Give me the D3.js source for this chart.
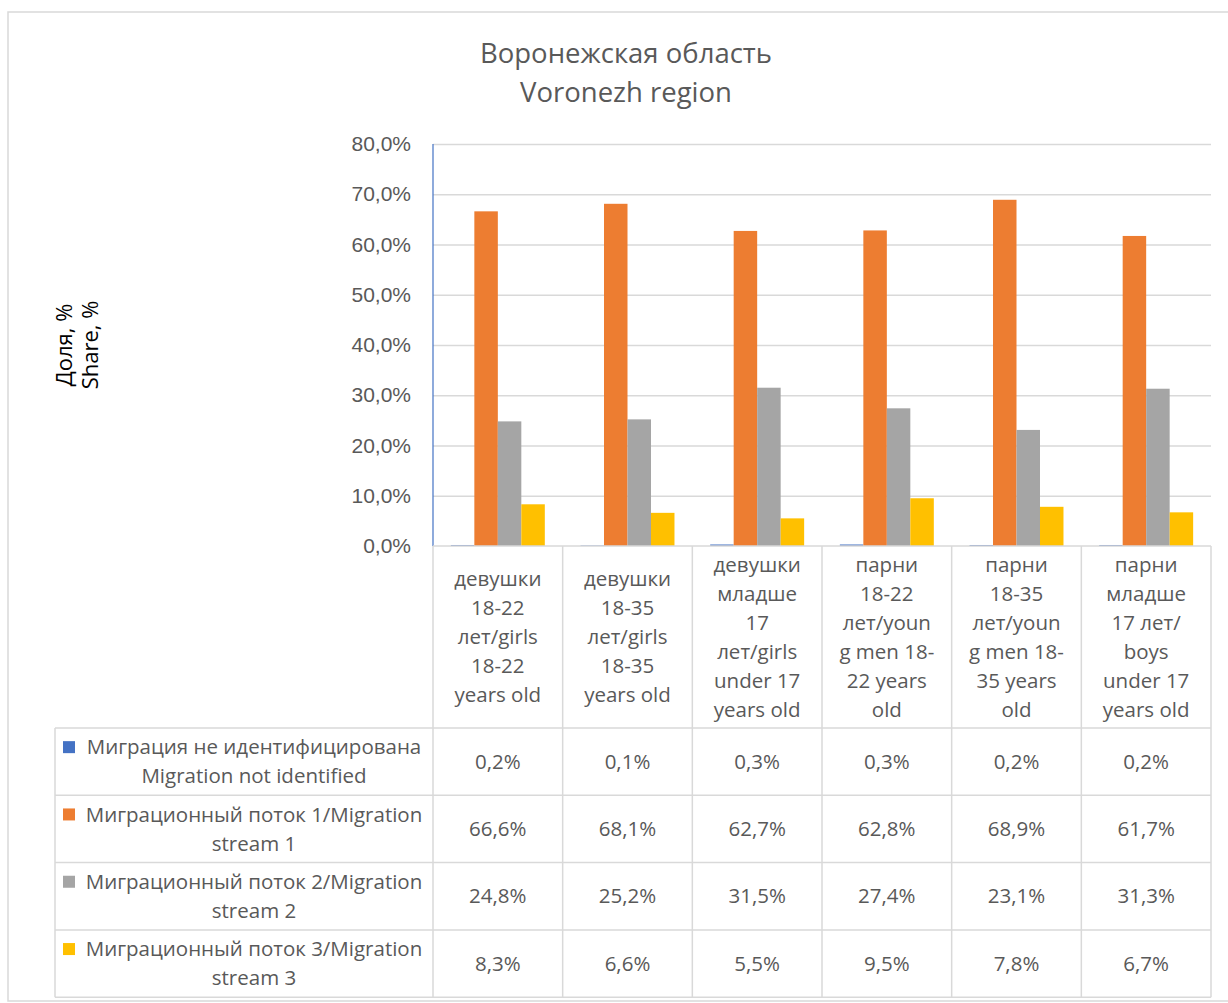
<!DOCTYPE html>
<html lang="ru">
<head>
<meta charset="UTF-8">
<title>Воронежская область</title>
<script src="https://d3js.org/d3.v7.min.js"></script>
<style>
    body { margin: 0; background: #fff; }
    svg { display: block; font-family: "Open Sans", sans-serif; }
    .tick text { fill: #595959; font-size: 21px; }
</style>
</head>
<body>
<svg width="1228" height="1003"></svg>
<script>
    // column headers, already broken into lines as in the source
    const categories = [
        "девушки|18-22|лет/girls|18-22|years old",
        "девушки|18-35|лет/girls|18-35|years old",
        "девушки|младше|17|лет/girls|under 17|years old",
        "парни|18-22|лет/youn|g men 18-|22 years|old",
        "парни|18-35|лет/youn|g men 18-|35 years|old",
        "парни|младше|17 лет/|boys|under 17|years old"
    ];
    const seriesNames = [
        "Миграция не идентифицирована|Migration not identified",
        "Миграционный поток 1/Migration|stream 1",
        "Миграционный поток 2/Migration|stream 2",
        "Миграционный поток 3/Migration|stream 3"
    ];
    const notIdentified = [0.2, 0.1, 0.3, 0.3, 0.2, 0.2];
    const stream1 = [66.6, 68.1, 62.7, 62.8, 68.9, 61.7];
    const stream2 = [24.8, 25.2, 31.5, 27.4, 23.1, 31.3];
    const stream3 = [8.3, 6.6, 5.5, 9.5, 7.8, 6.7];
    const colors = ["#4472c4", "#ed7d31", "#a5a5a5", "#ffc000"];

    const values = [notIdentified, stream1, stream2, stream3];

    const ru = d3.formatLocale({decimal: ",", thousands: " ", grouping: [3], currency: ["", " ₽"]});
    const pct = v => ru.format(".1f")(v) + "%";

    const svg = d3.select("svg");
    const grid = "#d9d9d9";
    const textCol = "#595959";
    const cellFont = "20.5px";

    // outer chart border
    svg.append("rect")
        .attr("x", 8).attr("y", 12)
        .attr("width", 1240).attr("height", 989)
        .attr("fill", "none").attr("stroke", grid).attr("stroke-width", 1.5);

    // title
    svg.append("text")
        .attr("x", 626).attr("y", 63)
        .attr("text-anchor", "middle")
        .attr("fill", textCol).style("font-size", "27.5px")
        .text("Воронежская область");
    svg.append("text")
        .attr("x", 626).attr("y", 102)
        .attr("text-anchor", "middle")
        .attr("fill", textCol).style("font-size", "27.5px")
        .text("Voronezh region");

    const plotLeft = 433, plotRight = 1211, plotTop = 144, plotBottom = 546;

    const x = d3.scaleBand().domain(categories).range([plotLeft, plotRight]);
    const xs = d3.scaleBand().domain(d3.range(values.length))
        .range([0, x.bandwidth()]).paddingInner(0).paddingOuter(0.76);
    const y = d3.scaleLinear().domain([0, 80]).range([plotBottom, plotTop]);

    // gridlines + tick labels
    const yAxis = svg.append("g")
        .attr("transform", "translate(" + plotLeft + ",0)")
        .call(d3.axisLeft(y).ticks(8).tickSize(-(plotRight - plotLeft)).tickPadding(22).tickFormat(pct));
    yAxis.select(".domain").remove();
    yAxis.selectAll(".tick line")
        .attr("stroke", d => d === 0 ? "none" : grid)
        .attr("stroke-width", 1.5);

    // bars
    svg.append("g").selectAll("g")
        .data(values)
        .join("g")
        .attr("fill", (d, i) => colors[i])
        .selectAll("rect")
        .data((d, i) => d.map((v, j) => ({v, j, i})))
        .join("rect")
        .attr("x", d => x(categories[d.j]) + xs(d.i))
        .attr("width", xs.bandwidth())
        .attr("y", d => y(d.v))
        .attr("height", d => y(0) - y(d.v));

    // value axis line
    svg.append("line")
        .attr("x1", plotLeft).attr("x2", plotLeft)
        .attr("y1", plotTop).attr("y2", plotBottom)
        .attr("stroke", "#4472c4").attr("stroke-width", 1.2);

    // y axis title
    const yt = svg.append("text")
        .attr("transform", "translate(77,345) rotate(-90)")
        .attr("text-anchor", "middle")
        .attr("fill", "#000").style("font-size", "22px");
    yt.append("tspan").attr("x", 0).attr("dy", "-0.25em").text("Доля, %");
    yt.append("tspan").attr("x", 0).attr("dy", "1.2em").text("Share, %");

    // data table
    const headBottom = 728, rowH = 67.3, tableLeft = 55;
    const rowTop = i => headBottom + i * rowH;
    const tableBottom = rowTop(values.length);
    const lineH = 29;
    const table = svg.append("g").attr("stroke", grid).attr("stroke-width", 1.5);

    table.append("line").attr("x1", plotLeft).attr("x2", plotRight).attr("y1", plotBottom).attr("y2", plotBottom);
    d3.range(values.length + 1).forEach(i => {
        table.append("line")
            .attr("x1", tableLeft).attr("x2", plotRight)
            .attr("y1", rowTop(i)).attr("y2", rowTop(i));
    });
    table.append("line").attr("x1", tableLeft).attr("x2", tableLeft)
        .attr("y1", headBottom).attr("y2", tableBottom);
    categories.concat([null]).forEach(c => {
        const xx = c === null ? plotRight : x(c);
        table.append("line").attr("x1", xx).attr("x2", xx)
            .attr("y1", plotBottom).attr("y2", tableBottom);
    });

    // column headers
    categories.forEach(c => {
        const lines = c.split("|");
        const cy = (plotBottom + headBottom) / 2 - (lines.length - 1) * lineH / 2;
        const t = svg.append("text")
            .attr("text-anchor", "middle").attr("fill", textCol)
            .style("font-size", cellFont);
        lines.forEach((l, k) => {
            t.append("tspan")
                .attr("x", x(c) + x.bandwidth() / 2)
                .attr("y", cy + k * lineH)
                .attr("dy", "0.35em")
                .text(l);
        });
    });

    // row legend + values
    seriesNames.forEach((s, i) => {
        const lines = s.split("|");
        const cy = rowTop(i) + rowH / 2 - (lines.length - 1) * lineH / 2;
        svg.append("rect")
            .attr("x", 63).attr("y", cy - 6)
            .attr("width", 12).attr("height", 12)
            .attr("fill", colors[i]);
        const t = svg.append("text")
            .attr("text-anchor", "middle").attr("fill", textCol)
            .style("font-size", cellFont);
        lines.forEach((l, k) => {
            t.append("tspan")
                .attr("x", 254)
                .attr("y", cy + k * lineH)
                .attr("dy", "0.35em")
                .text(l);
        });
        values[i].forEach((v, j) => {
            svg.append("text")
                .attr("x", x(categories[j]) + x.bandwidth() / 2)
                .attr("y", rowTop(i) + rowH / 2)
                .attr("dy", "0.35em")
                .attr("text-anchor", "middle").attr("fill", textCol)
                .style("font-size", cellFont)
                .text(pct(v));
        });
    });
</script>
</body>
</html>
